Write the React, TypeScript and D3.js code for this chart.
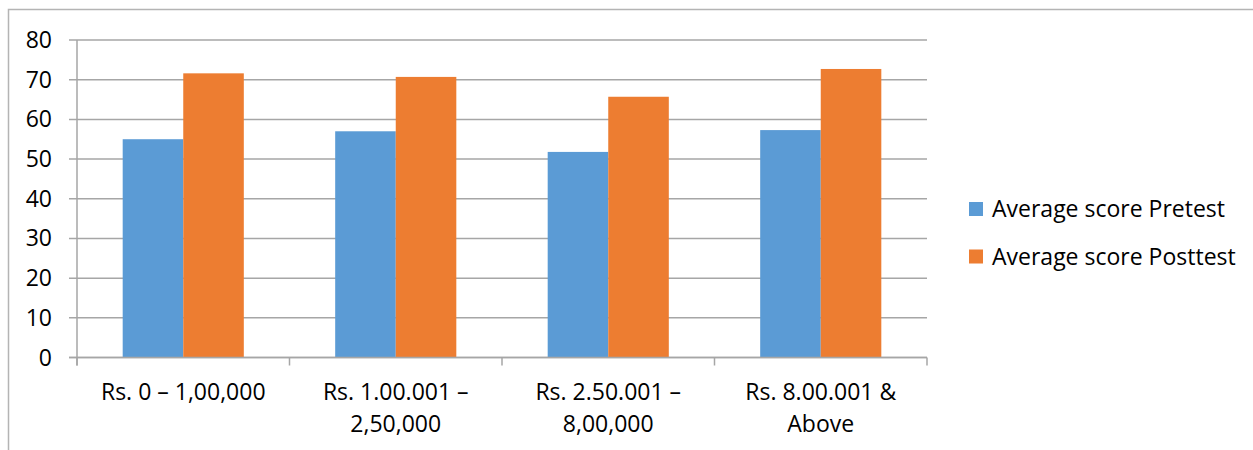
import { useEffect, useRef } from "react";
import * as d3 from "d3";

const categories = [
  ["Rs. 0 – 1,00,000"],
  ["Rs. 1.00.001 –", "2,50,000"],
  ["Rs. 2.50.001 –", "8,00,000"],
  ["Rs. 8.00.001 &", "Above"],
];
const seriesNames = ["Average score Pretest", "Average score Posttest"];
const pretest = [55, 57, 51.8, 57.3];
const posttest = [71.6, 70.7, 65.7, 72.7];
const yTicks = [0, 10, 20, 30, 40, 50, 60, 70, 80];
const colors = ["#5B9BD5", "#ED7D31"];

const W = 1253;
const H = 450;
const FONT = "'Open Sans', 'Noto Sans', sans-serif";
const FS = 23;

export default function App() {
  const svgRef = useRef<SVGSVGElement>(null);

  useEffect(() => {
    if (!svgRef.current) return;
    const svg = d3.select(svgRef.current);
    svg.selectAll("*").remove();

    const left = 77;
    const right = 927;
    const top = 40;
    const bottom = 357.5;
    const grid = "#A6A6A6";

    // outer chart border
    svg
      .append("rect")
      .attr("x", 8.5)
      .attr("y", 9.5)
      .attr("width", W + 20)
      .attr("height", H + 20)
      .attr("fill", "none")
      .attr("stroke", "#B4B4B4")
      .attr("stroke-width", 1.5);

    const y = d3.scaleLinear().domain([0, 80]).range([bottom, top]);
    const idx = categories.map((_, i) => i);
    const x0 = d3.scaleBand<number>().domain(idx).range([left, right]);
    const groupPad = x0.bandwidth() * 0.215;
    const x1 = d3
      .scaleBand<number>()
      .domain([0, 1])
      .range([groupPad, x0.bandwidth() - groupPad]);

    // gridlines
    svg
      .append("g")
      .selectAll("line")
      .data(yTicks)
      .join("line")
      .attr("x1", left - 8)
      .attr("x2", right)
      .attr("y1", (d) => y(d))
      .attr("y2", (d) => y(d))
      .attr("stroke", grid)
      .attr("stroke-width", 1.5);

    // y tick labels
    svg
      .append("g")
      .selectAll("text")
      .data(yTicks)
      .join("text")
      .attr("x", 52)
      .attr("y", (d) => y(d))
      .attr("dy", "0.35em")
      .attr("text-anchor", "end")
      .attr("font-family", FONT)
      .attr("font-size", FS)
      .attr("fill", "#000")
      .text((d) => d);

    // bars
    const series = [pretest, posttest];
    series.forEach((vals, s) => {
      svg
        .append("g")
        .selectAll("rect")
        .data(vals)
        .join("rect")
        .attr("x", (_, i) => (x0(i) ?? 0) + (x1(s) ?? 0))
        .attr("width", x1.bandwidth())
        .attr("y", (d) => y(d))
        .attr("height", (d) => bottom - y(d))
        .attr("fill", colors[s]);
    });

    // axes lines
    svg
      .append("line")
      .attr("x1", left)
      .attr("x2", left)
      .attr("y1", top)
      .attr("y2", bottom + 8)
      .attr("stroke", grid)
      .attr("stroke-width", 1.5);
    svg
      .append("line")
      .attr("x1", left - 8)
      .attr("x2", right)
      .attr("y1", bottom)
      .attr("y2", bottom)
      .attr("stroke", grid)
      .attr("stroke-width", 1.5);
    const bounds = [...idx.map((i) => x0(i) ?? 0), right];
    svg
      .append("g")
      .selectAll("line")
      .data(bounds)
      .join("line")
      .attr("x1", (d) => d)
      .attr("x2", (d) => d)
      .attr("y1", bottom)
      .attr("y2", bottom + 8)
      .attr("stroke", grid)
      .attr("stroke-width", 1.5);

    // category labels
    const labels = svg
      .append("g")
      .selectAll("text")
      .data(categories)
      .join("text")
      .attr("text-anchor", "middle")
      .attr("font-family", FONT)
      .attr("font-size", FS)
      .attr("fill", "#000");
    labels
      .selectAll("tspan")
      .data((d, i) => d.map((t) => ({ t, i })))
      .join("tspan")
      .attr("x", (d) => (x0(d.i) ?? 0) + x0.bandwidth() / 2)
      .attr("y", (_, j) => 392 + j * 31.5)
      .attr("dy", "0.35em")
      .text((d) => d.t);

    // legend
    const leg = svg
      .append("g")
      .selectAll("g")
      .data(seriesNames)
      .join("g")
      .attr("transform", (_, i) => `translate(969, ${202 + i * 47.5})`);
    leg
      .append("rect")
      .attr("width", 14)
      .attr("height", 14)
      .attr("fill", (_, i) => colors[i]);
    leg
      .append("text")
      .attr("x", 23)
      .attr("y", 7)
      .attr("dy", "0.35em")
      .attr("font-family", FONT)
      .attr("font-size", FS)
      .attr("fill", "#000")
      .text((d) => d);
  }, []);

  return (
    <svg
      ref={svgRef}
      width={W}
      height={H}
      style={{ position: "absolute", left: 0, top: 0, background: "#fff" }}
    />
  );
}
